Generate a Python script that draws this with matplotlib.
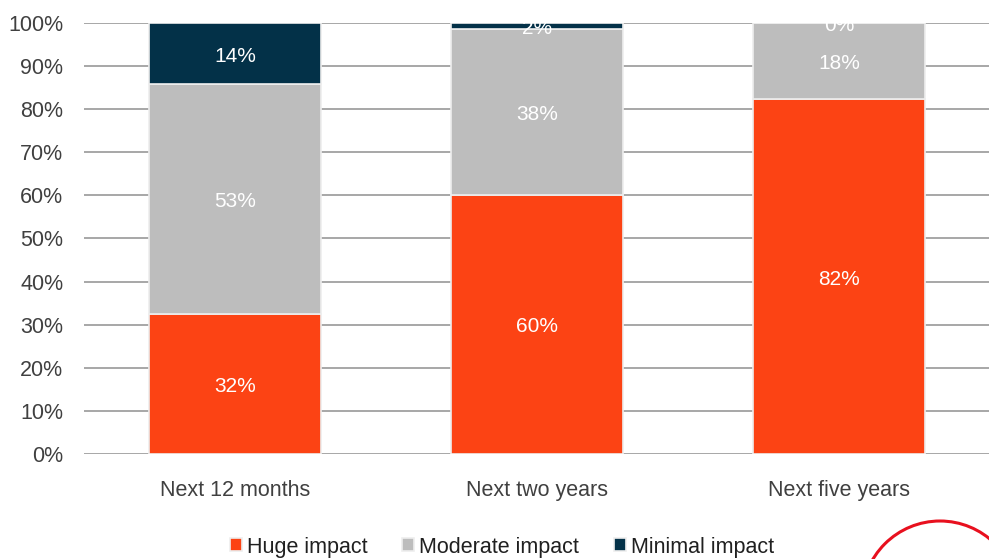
import matplotlib
matplotlib.use("Agg")
import matplotlib.pyplot as plt
import numpy as np
from matplotlib.patches import Circle

plt.rcParams['font.family'] = ['Liberation Sans', 'DejaVu Sans']

# data
categories = ['Next 12 months', 'Next two years', 'Next five years']
huge = [32.4, 60.2, 82.3]
moderate = [53.4, 38.3, 17.7]
minimal = [14.2, 1.5, 0.0]
series_names = ['Huge impact', 'Moderate impact', 'Minimal impact']
colors = ['#FC4314', '#BDBDBD', '#033148']

W, H = 989, 559
fig = plt.figure(figsize=(W / 100, H / 100), dpi=100)
ax = fig.add_axes([84 / W, (H - 454) / H, 906 / W, 431 / H])

x = np.arange(len(categories))
bottom = np.zeros(len(categories))
handles = []
for vals, name, col in zip([huge, moderate, minimal], series_names, colors):
    vals = np.array(vals)
    b = ax.bar(x, vals, 0.57, bottom=bottom, color=col, edgecolor='#eeeeee',
               linewidth=1.2, label=name, zorder=3)
    handles.append(b)
    for xi, v, b0 in zip(x, vals, bottom):
        ax.text(xi, b0 + v / 2 - 0.6, f"{v:.0f}%", ha='center', va='center',
                color='white', fontsize=15, zorder=5, clip_on=True)
    bottom += vals

ax.set_xlim(-0.5, 2.5)
ax.set_ylim(0, 100)
ax.set_yticks(np.arange(0, 101, 10))
ax.set_yticklabels([f"{t}%" for t in range(0, 101, 10)])
ax.set_xticks(x)
ax.set_xticklabels(categories)
ax.tick_params(axis='both', length=0, labelsize=15.5, labelcolor='#404040')
ax.tick_params(axis='y', pad=15)
ax.tick_params(axis='x', pad=19)
ax.yaxis.grid(True, color='#a0a0a0', linewidth=1.3, zorder=0)
for s in ax.spines.values():
    s.set_visible(False)

fig.legend(handles=handles, labels=series_names, loc='center',
           bbox_to_anchor=(502 / W, (H - 547) / H), ncol=3, frameon=False,
           fontsize=15.5, handlelength=0.55, handleheight=0.55, handletextpad=0.25,
           columnspacing=1.6, labelcolor='#202020')

# logo ring at bottom right corner
ring = Circle((940, H - 599), 78, transform=None, fill=False,
              edgecolor='#E8101E', linewidth=2.2)
fig.patches.append(ring)

fig.savefig('out.png', dpi=100)
